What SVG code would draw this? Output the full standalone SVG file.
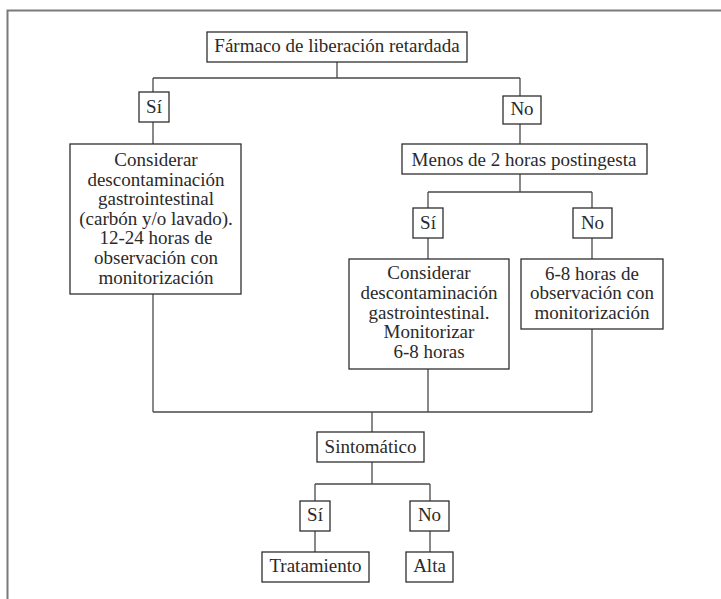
<svg xmlns="http://www.w3.org/2000/svg" width="721" height="599" viewBox="0 0 721 599">
<style>
.bx{fill:#fff;stroke:#2e2e2e;stroke-width:1.3}
.ln{fill:none;stroke:#4a4a4a;stroke-width:1.3}
.fr{fill:none;stroke:#7a7a7a;stroke-width:2}
text{font-family:"Liberation Serif","Times New Roman",serif;font-size:19px;fill:#2a2a2a;text-anchor:middle}
</style>
<rect width="721" height="599" fill="#fff"/>
<path class="fr" d="M7.5 599 V10.5 H721"/>
<g id="connectors">
<path class="ln" d="M337 62 V78 M153 78 H520 M153 78 V92 M153 122 V144 M520 78 V96 M520 124 V144"/>
<path class="ln" d="M520 174 V192 M428 192 H592 M428 192 V208 M592 192 V208 M428 238 V259 M592 238 V259"/>
<path class="ln" d="M153 294 V412 M428 369 V412 M592 329 V412 M153 412 H592 M372 412 V432"/>
<path class="ln" d="M372 462 V484 M315 484 H430 M315 484 V501 M430 484 V501 M315 531 V552 M430 531 V552"/>
</g>
<g id="n-farmaco"><rect class="bx" x="207" y="32" width="260" height="30"/><text x="337" y="52">Fármaco de liberación retardada</text></g>
<g id="n-si1"><rect class="bx" x="139" y="92" width="30" height="30"/><text x="154" y="113">Sí</text></g>
<g id="n-no1"><rect class="bx" x="503" y="96" width="38" height="28"/><text x="522" y="115">No</text></g>
<g id="n-considerar1"><rect class="bx" x="70" y="144" width="171" height="150"/>
<text x="156" y="166">Considerar</text>
<text x="156" y="185.6">descontaminación</text>
<text x="156" y="205.2">gastrointestinal</text>
<text x="156" y="224.8">(carbón y/o lavado).</text>
<text x="156" y="244.4">12-24 horas de</text>
<text x="156" y="264">observación con</text>
<text x="156" y="283.6">monitorización</text></g>
<g id="n-menos"><rect class="bx" x="402" y="144" width="245" height="30"/><text x="524" y="165.5">Menos de 2 horas postingesta</text></g>
<g id="n-si2"><rect class="bx" x="413" y="208" width="30" height="30"/><text x="428" y="228.5">Sí</text></g>
<g id="n-no2"><rect class="bx" x="573" y="208" width="39" height="30"/><text x="592.5" y="228.5">No</text></g>
<g id="n-considerar2"><rect class="bx" x="349" y="259" width="160" height="110"/>
<text x="429" y="279">Considerar</text>
<text x="429" y="298.8">descontaminación</text>
<text x="429" y="318.6">gastrointestinal.</text>
<text x="429" y="338.4">Monitorizar</text>
<text x="429" y="358.2">6-8 horas</text></g>
<g id="n-observacion"><rect class="bx" x="521" y="259" width="142" height="70"/>
<text x="592" y="279.5">6-8 horas de</text>
<text x="592" y="299.2">observación con</text>
<text x="592" y="318.8">monitorización</text></g>
<g id="n-sintomatico"><rect class="bx" x="317" y="432" width="107" height="30"/><text x="370.5" y="452.5">Sintomático</text></g>
<g id="n-si3"><rect class="bx" x="300" y="501" width="30" height="30"/><text x="315" y="521">Sí</text></g>
<g id="n-no3"><rect class="bx" x="410" y="501" width="39" height="30"/><text x="429.5" y="521">No</text></g>
<g id="n-tratamiento"><rect class="bx" x="262" y="552" width="107" height="30"/><text x="315.5" y="571.5">Tratamiento</text></g>
<g id="n-alta"><rect class="bx" x="406" y="552" width="47" height="30"/><text x="429.5" y="571.5">Alta</text></g>
</svg>
